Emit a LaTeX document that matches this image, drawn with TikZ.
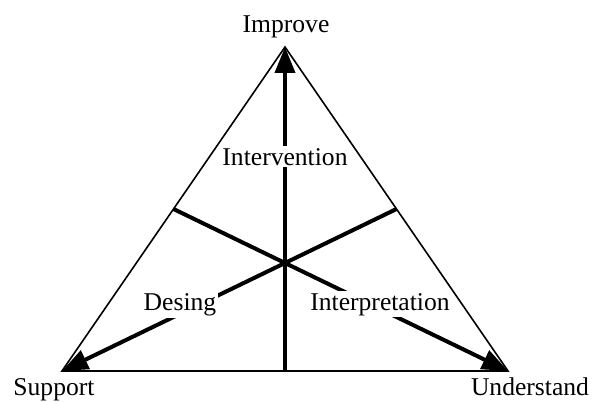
\documentclass[tikz,border=0pt]{standalone}
\usepackage{fontspec}
\setmainfont{Liberation Serif}
\usetikzlibrary{arrows.meta, calc}

\begin{document}
\begin{tikzpicture}[x=0.5pt, y=-0.5pt, font=\fontsize{12.8}{15}\selectfont,
  edge/.style={line width=0.8pt},
  median/.style={line width=2pt, -{Triangle[length=13pt, width=10pt]}},
  tag/.style={fill=white, inner sep=1pt, anchor=base}]
  \useasboundingbox (0,0) rectangle (593,401);
  % corners of the triangle
  \coordinate (top) at (285,47);
  \coordinate (left) at (62,371);
  \coordinate (right) at (508,371);
  \coordinate (midleft) at ($(top)!0.5!(left)$);
  \coordinate (midright) at ($(top)!0.5!(right)$);
  \coordinate (midbottom) at ($(left)!0.5!(right)$);
  \draw[edge] (left) -- (right) -- (top) -- cycle;
  % medians
  \draw[median] (midbottom) -- (top);
  \draw[median] (midright) -- (left);
  \draw[median] (midleft) -- (right);
  % labels
  \node[anchor=base] (improve) at (286,33) {Improve};
  \node[anchor=base] (support) at (54,395) {Support};
  \node[anchor=base] (understand) at (530,395) {Understand};
  \node[tag] (intervention) at (285,165) {Intervention};
  \node[tag] (desing) at (180,310) {Desing};
  \node[tag] (interpretation) at (380,310) {Interpretation};
\end{tikzpicture}
\end{document}
